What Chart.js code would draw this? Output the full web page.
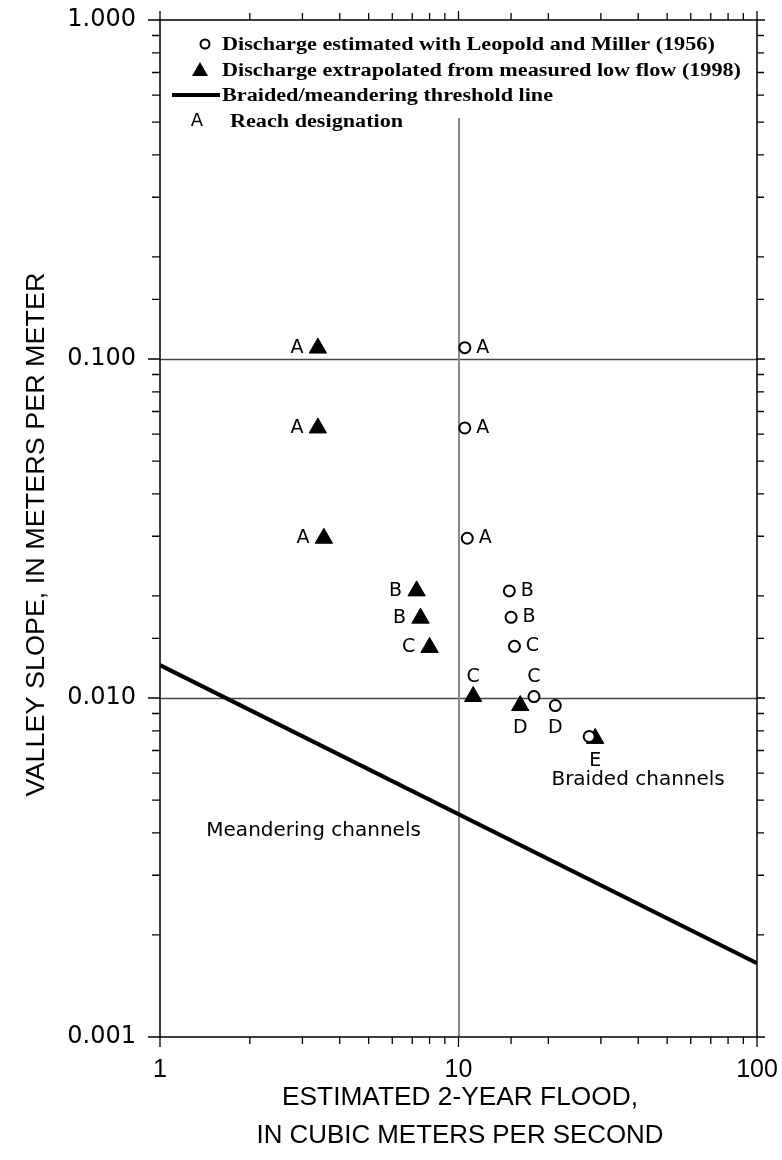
<!DOCTYPE html>
<html>
<head>
<meta charset="utf-8">
<script src="https://cdn.jsdelivr.net/npm/chart.js@4.4.1/dist/chart.umd.min.js"></script>
<style>
  html, body { margin: 0; padding: 0; background: #fff; }
  canvas { display: block; }
</style>
</head>
<body>
<canvas id="chart" width="782" height="1160"></canvas>
<script>
// ====== Data ======
const xMin = 1, xMax = 100;
const yMin = 0.001, yMax = 1;

// Discharge estimated with Leopold and Miller (1956)
const circleQ     = [10.5, 10.5, 10.7, 14.8, 15.0, 15.4, 17.9, 21.1, 27.4];
const circleS     = [0.108, 0.0626, 0.0296, 0.0207, 0.0173, 0.0142, 0.0101, 0.0095, 0.0077];
const circleReach = ['A', 'A', 'A', 'B', 'B', 'C', 'C', 'D', ''];

// Discharge extrapolated from measured low flow (1998)
const triQ     = [3.38, 3.38, 3.54, 7.24, 7.46, 8.0, 11.2, 16.1, 28.7];
const triS     = [0.1077, 0.0626, 0.0296, 0.0207, 0.0172, 0.0141, 0.0101, 0.0095, 0.0076];
const triReach = ['A', 'A', 'A', 'B', 'B', 'C', 'C', 'D', 'E'];

// Braided/meandering threshold line
const thresholdQ = [1, 100];
const thresholdS = [0.0125, 0.00165];

const legendLabels = [
  'Discharge estimated with Leopold and Miller (1956)',
  'Discharge extrapolated from measured low flow (1998)',
  'Braided/meandering threshold line',
  'Reach designation'
];
const xTitle = ['ESTIMATED 2-YEAR FLOOD,', 'IN CUBIC METERS PER SECOND'];
const yTitle = 'VALLEY SLOPE, IN METERS PER METER';

// where the reach letter sits relative to its point
const circleSide = ['right', 'right', 'right', 'right', 'right', 'right', 'above', 'below', ''];
const triSide    = ['left', 'left', 'left', 'left', 'left', 'left', 'above', 'below', 'below'];

// ====== helpers ======
const isMajor = v => Math.abs(Math.log10(v) - Math.round(Math.log10(v))) < 1e-6;
const pts = (xs, ys) => xs.map((x, i) => ({ x, y: ys[i] }));

function squeezeText(ctx, text, x, y, width, align) {
  const w = ctx.measureText(text).width;
  const sx = width ? width / w : 1;
  ctx.save();
  ctx.translate(x, y);
  ctx.scale(sx, 1);
  ctx.textAlign = align || 'left';
  ctx.fillText(text, 0, 0);
  ctx.restore();
}

// ====== plugin: grid, frame, ticks, legend, labels ======
const decor = {
  id: 'decor',
  beforeDatasetsDraw(chart) {
    const { ctx, chartArea: a, scales: { x, y } } = chart;
    ctx.save();
    ctx.lineWidth = 1.5;
    ctx.strokeStyle = '#444';
    y.ticks.forEach(t => {
      if (isMajor(t.value) && t.value > yMin * 1.01 && t.value < yMax * 0.99) {
        const py = Math.round(y.getPixelForValue(t.value)) + 0.5;
        ctx.beginPath(); ctx.moveTo(a.left, py); ctx.lineTo(a.right, py); ctx.stroke();
      }
    });
    ctx.strokeStyle = '#888';
    ctx.lineWidth = 2;
    x.ticks.forEach(t => {
      if (isMajor(t.value) && t.value > xMin * 1.01 && t.value < xMax * 0.99) {
        const px = Math.round(x.getPixelForValue(t.value));
        ctx.beginPath(); ctx.moveTo(px, a.top + 98); ctx.lineTo(px, a.bottom); ctx.stroke();
      }
    });
    ctx.restore();
  },
  afterDraw(chart) {
    const { ctx, chartArea: a, scales: { x, y } } = chart;
    ctx.save();
    // frame
    ctx.strokeStyle = '#000';
    ctx.lineWidth = 1.5;
    ctx.strokeRect(a.left, a.top, a.right - a.left, a.bottom - a.top);

    // ticks, outward on all four sides
    ctx.lineWidth = 1.3;
    ctx.beginPath();
    x.ticks.forEach(t => {
      const px = x.getPixelForValue(t.value);
      const m = isMajor(t.value);
      ctx.moveTo(px, a.bottom); ctx.lineTo(px, a.bottom + (m ? 10 : 7));
      ctx.moveTo(px, a.top);    ctx.lineTo(px, a.top - (m ? 9 : 7));
    });
    y.ticks.forEach(t => {
      const py = y.getPixelForValue(t.value);
      const m = isMajor(t.value);
      ctx.moveTo(a.left, py);  ctx.lineTo(a.left - (m ? 12 : 8), py);
      ctx.moveTo(a.right, py); ctx.lineTo(a.right + (m ? 8 : 7), py);
    });
    ctx.stroke();

    // legend
    ctx.fillStyle = '#000';
    ctx.textBaseline = 'middle';
    ctx.font = 'bold 18px "Liberation Serif"';
    const sx = 519 / ctx.measureText(legendLabels[1]).width;
    const rows = [44, 70, 95, 121];
    const tx = 222;
    ctx.beginPath(); ctx.lineWidth = 2; ctx.arc(205, rows[0], 4.5, 0, Math.PI * 2); ctx.stroke();
    ctx.beginPath(); ctx.moveTo(200, rows[1] - 8); ctx.lineTo(208, rows[1] + 6); ctx.lineTo(192, rows[1] + 6); ctx.closePath(); ctx.fill();
    ctx.beginPath(); ctx.lineWidth = 4; ctx.moveTo(172, rows[2]); ctx.lineTo(220, rows[2]); ctx.stroke();
    legendLabels.forEach((s, i) => {
      ctx.save();
      ctx.translate(i === 3 ? 230 : tx, rows[i] + 1);
      ctx.scale(sx, 1);
      ctx.fillText(s, 0, 0);
      ctx.restore();
    });
    ctx.font = '18px "DejaVu Sans"';
    ctx.textAlign = 'center';
    ctx.fillText('A', 197, rows[3]);

    // reach letters next to points
    ctx.font = '19px "DejaVu Sans"';
    const place = (metaIdx, letters, sides) => {
      const meta = chart.getDatasetMeta(metaIdx);
      meta.data.forEach((el, i) => {
        if (!letters[i]) return;
        let lx = el.x, ly = el.y;
        if (sides[i] === 'left') lx -= 21;
        if (sides[i] === 'right') lx += 18;
        if (sides[i] === 'above') ly -= 19;
        if (sides[i] === 'below') ly += 23;
        ctx.fillText(letters[i], lx, ly);
      });
    };
    place(1, circleReach, circleSide);
    place(2, triReach, triSide);

    // region names
    ctx.font = '20px "DejaVu Sans"';
    ctx.textAlign = 'right';
    ctx.fillText('Braided channels', x.getPixelForValue(78), y.getPixelForValue(0.00573));
    ctx.textAlign = 'center';
    ctx.fillText('Meandering channels', x.getPixelForValue(3.27), y.getPixelForValue(0.00405));

    // axis titles
    ctx.font = '25px "Liberation Sans"';
    squeezeText(ctx, xTitle[0], 460, 1098, 356, 'center');
    squeezeText(ctx, xTitle[1], 460, 1136, 407, 'center');
    ctx.save();
    ctx.translate(37, (a.top + a.bottom) / 2 + 6);
    ctx.rotate(-Math.PI / 2);
    squeezeText(ctx, yTitle, 0, 0, 524, 'center');
    ctx.restore();

    ctx.restore();
  }
};

new Chart(document.getElementById('chart'), {
  type: 'scatter',
  data: {
    datasets: [
      {
        label: legendLabels[2],
        type: 'line',
        data: pts(thresholdQ, thresholdS),
        borderColor: '#000',
        borderWidth: 4,
        pointRadius: 0,
        fill: false
      },
      {
        label: legendLabels[0],
        data: pts(circleQ, circleS),
        pointStyle: 'circle',
        pointRadius: 5.5,
        pointBorderWidth: 2,
        borderColor: '#000',
        backgroundColor: '#fff'
      },
      {
        label: legendLabels[1],
        data: pts(triQ, triS),
        pointStyle: 'triangle',
        pointRadius: 10,
        pointBorderWidth: 1,
        borderColor: '#000',
        backgroundColor: '#000'
      }
    ]
  },
  options: {
    responsive: false,
    animation: false,
    layout: { padding: { top: 20, right: 25, left: 0, bottom: 0 } },
    plugins: { legend: { display: false }, tooltip: { enabled: false } },
    scales: {
      x: {
        type: 'logarithmic',
        min: xMin, max: xMax,
        afterFit(s) { s.height = 123; s.paddingLeft = 0; s.paddingRight = 0; },
        grid: { display: false },
        border: { display: false },
        ticks: {
          autoSkip: false, maxRotation: 0, padding: 10, color: '#000',
          font: { family: 'Liberation Sans', size: 25 },
          callback: v => isMajor(v) ? String(Math.round(v)) : ''
        }
      },
      y: {
        type: 'logarithmic',
        min: yMin, max: yMax,
        afterFit(s) { s.width = 160; s.paddingTop = 0; s.paddingBottom = 0; },
        grid: { display: false },
        border: { display: false },
        ticks: {
          autoSkip: false, padding: 16, color: '#000',
          font: { family: 'DejaVu Sans', size: 24 },
          callback: v => isMajor(v) ? v.toFixed(3) : ''
        }
      }
    }
  },
  plugins: [decor]
});
</script>
</body>
</html>
